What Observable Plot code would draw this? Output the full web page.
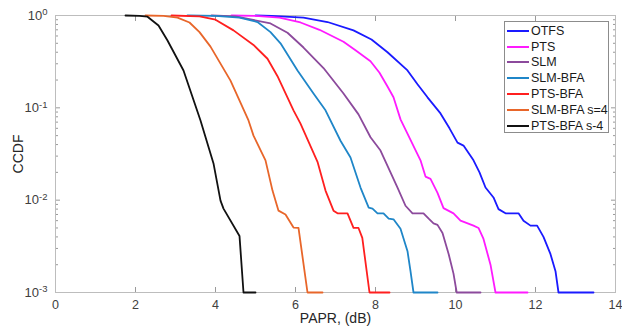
<!DOCTYPE html>
<html><head><meta charset="utf-8">
<script src="https://cdn.jsdelivr.net/npm/d3@7"></script>
<script src="https://cdn.jsdelivr.net/npm/@observablehq/plot@0.6"></script>
<style>
body{margin:0;background:#fff;}
#wrap{position:relative;width:622px;height:327px;font-family:"Liberation Sans",Arial,sans-serif;}
#legend{position:absolute;left:504px;top:21px;width:105px;height:112px;border:1px solid #8c8c8c;background:#fff;box-sizing:border-box;padding-top:1px}
.item{display:flex;align-items:center;height:15.8px;font-size:12.5px;color:#1a1a1a;white-space:nowrap}
.sw{width:22px;height:2px;margin-left:2px;margin-right:2px;flex:none}
</style></head><body><div id="wrap"><div id="legend"></div></div>
<script>
const seriesNames = ["OTFS", "PTS", "SLM", "SLM-BFA", "PTS-BFA", "SLM-BFA s=4", "PTS-BFA s-4"];
const seriesColors = ["#1a1aff", "#ff1aff", "#8c4a9c", "#1f86c8", "#ff1f1f", "#e8662a", "#111111"];
const xTicks = [0, 2, 4, 6, 8, 10, 12, 14];
const yMajor = [0.001, 0.01, 0.1, 1];
const yMinor = [0.002,0.003,0.004,0.005,0.006,0.007,0.008,0.009,0.02,0.03,0.04,0.05,0.06,0.07,0.08,0.09,0.2,0.3,0.4,0.5,0.6,0.7,0.8,0.9];

const otfsX = [5.0, 5.4, 6.2, 6.8, 7.45, 7.9, 8.3, 8.8, 9.05, 9.3, 9.625, 9.85, 10.05, 10.2, 10.45, 10.6, 10.75, 10.95, 11.075, 11.25, 11.575, 11.7, 11.875, 12.04, 12.2, 12.375, 12.5, 12.575, 13.45];
const otfsY = [1.0, 0.99, 0.95, 0.85, 0.69, 0.55, 0.40, 0.254, 0.18, 0.13, 0.087, 0.06, 0.042, 0.039, 0.027, 0.02, 0.0137, 0.0107, 0.008, 0.0072, 0.0072, 0.006, 0.0053, 0.0053, 0.004, 0.0026, 0.0017, 0.001, 0.001];
const ptsX = [4.4, 5.0, 5.6, 6.125, 6.6, 7.2, 7.5, 7.875, 8.1, 8.3, 8.45, 8.625, 8.875, 9.125, 9.25, 9.375, 9.55, 9.7, 9.95, 10.125, 10.45, 10.575, 10.7, 10.875, 11.0, 11.8];
const ptsY = [1.0, 0.99, 0.95, 0.84, 0.7, 0.52, 0.42, 0.32, 0.24, 0.17, 0.13, 0.075, 0.045, 0.027, 0.018, 0.017, 0.012, 0.0082, 0.0072, 0.006, 0.0053, 0.005, 0.0038, 0.002, 0.001, 0.001];
const slmX = [3.9, 4.5, 5.375, 5.8, 6.2, 6.7, 7.2, 7.575, 7.875, 8.125, 8.375, 8.55, 8.75, 8.925, 9.2, 9.33, 9.45, 9.55, 9.675, 9.83, 9.95, 10.03, 10.625];
const slmY = [1.0, 0.98, 0.82, 0.65, 0.45, 0.27, 0.143, 0.085, 0.048, 0.0345, 0.02, 0.0137, 0.0087, 0.0072, 0.0072, 0.0063, 0.0056, 0.0054, 0.0044, 0.0026, 0.0016, 0.001, 0.001];
const slmBfaX = [3.3, 4.0, 4.6, 5.05, 5.375, 5.625, 6.05, 6.45, 6.75, 7.125, 7.375, 7.625, 7.83, 7.925, 8.05, 8.2, 8.33, 8.45, 8.625, 8.8, 8.875, 8.95, 9.55];
const slmBfaY = [1.0, 0.99, 0.95, 0.85, 0.66, 0.5, 0.254, 0.143, 0.094, 0.044, 0.029, 0.0137, 0.0083, 0.0081, 0.0072, 0.0072, 0.0063, 0.0062, 0.0049, 0.0028, 0.0017, 0.001, 0.001];
const ptsBfaX = [2.9, 3.6, 4.0, 4.45, 4.95, 5.3, 5.55, 5.95, 6.125, 6.55, 6.75, 6.95, 7.05, 7.3, 7.45, 7.575, 7.67, 7.85, 8.35];
const ptsBfaY = [1.0, 0.98, 0.9, 0.69, 0.48, 0.34, 0.22, 0.094, 0.0675, 0.026, 0.0127, 0.0077, 0.0072, 0.0072, 0.005, 0.005, 0.0039, 0.001, 0.001];
const slmBfa4X = [2.25, 2.7, 3.05, 3.35, 3.6, 3.875, 4.375, 4.825, 4.95, 5.25, 5.425, 5.575, 5.75, 5.95, 6.075, 6.3, 6.675];
const slmBfa4Y = [1.0, 0.99, 0.95, 0.84, 0.66, 0.46, 0.197, 0.073, 0.05, 0.027, 0.0127, 0.0077, 0.007, 0.00505, 0.005, 0.001, 0.001];
const ptsBfa4X = [1.75, 2.1, 2.3, 2.575, 2.8, 3.2, 3.625, 3.95, 4.125, 4.2, 4.6, 4.7, 5.0];
const ptsBfa4Y = [1.0, 0.99, 0.97, 0.78, 0.536, 0.254, 0.073, 0.025, 0.0099, 0.0081, 0.0041, 0.001, 0.001];

const seriesX = [otfsX, ptsX, slmX, slmBfaX, ptsBfaX, slmBfa4X, ptsBfa4X];
const seriesY = [otfsY, ptsY, slmY, slmBfaY, ptsBfaY, slmBfa4Y, ptsBfa4Y];

const table = [];
seriesNames.forEach((name, i) => {
  seriesX[i].forEach((x, j) => table.push({series: name, x, y: seriesY[i][j]}));
});

const font = '"Liberation Sans", Arial, sans-serif';
const tickGray = "#9a9a9a";
const chart = Plot.plot({
  width: 622, height: 327,
  marginLeft: 55, marginRight: 7, marginTop: 15, marginBottom: 35,
  style: {fontFamily: font, fontSize: "12px", color: "#404040", background: "white", overflow: "visible"},
  x: {domain: [0, 14]},
  y: {type: "log", domain: [0.001, 1]},
  color: {domain: seriesNames, range: seriesColors},
  marks: [
    Plot.axisX({anchor: "bottom", ticks: xTicks, tickSize: -5, tickFormat: () => "", stroke: tickGray, label: null}),
    Plot.axisX({anchor: "top", ticks: xTicks, tickSize: -5, tickFormat: () => "", stroke: tickGray, label: null}),
    Plot.axisX({anchor: "bottom", ticks: xTicks, tickSize: 0, tickPadding: 8, fill: "#404040", fontSize: 12.5,
      label: "PAPR, (dB)", labelAnchor: "center", labelOffset: 30, labelArrow: "none"}),
    Plot.axisY({anchor: "left", ticks: yMajor, tickSize: -5, tickFormat: () => "", stroke: tickGray, label: null}),
    Plot.axisY({anchor: "right", ticks: yMajor, tickSize: -5, tickFormat: () => "", stroke: tickGray, label: null}),
    Plot.axisY({anchor: "left", ticks: yMinor, tickSize: -3, tickFormat: () => "", stroke: tickGray, label: null}),
    Plot.axisY({anchor: "right", ticks: yMinor, tickSize: -3, tickFormat: () => "", stroke: tickGray, label: null}),
    Plot.axisY({anchor: "left", ticks: yMajor, tickSize: 0, tickPadding: 8, fill: "#404040", fontSize: 13,
      tickFormat: d => "10^" + Math.round(Math.log10(d)),
      label: "CCDF", labelAnchor: "center", labelOffset: 42, labelArrow: "none"}),
    Plot.frame({stroke: "#bdbdbd"}),
    Plot.line(table, {x: "x", y: "y", z: "series", stroke: "series", strokeWidth: 1.8})
  ]
});

d3.select(chart).selectAll('g[aria-label="y-axis tick label"] text').each(function() {
  const m = this.textContent.match(/^10\^(.*)$/);
  if (m) {
    const el = d3.select(this);
    el.text("");
    el.append("tspan").text("10");
    el.append("tspan").attr("dy", "-0.45em").attr("font-size", "9.5px").text(m[1]);
  }
});
d3.select(chart).selectAll('g[aria-label="x-axis label"] text, g[aria-label="y-axis label"] text').attr("font-size", "14px").attr("fill", "#262626");

const wrap = document.getElementById("wrap");
wrap.insertBefore(chart, wrap.firstChild);
const legend = d3.select("#legend");
seriesNames.forEach((name, i) => {
  const it = legend.append("div").attr("class", "item");
  it.append("div").attr("class", "sw").style("background", seriesColors[i]);
  it.append("span").text(name);
});
</script></body></html>
